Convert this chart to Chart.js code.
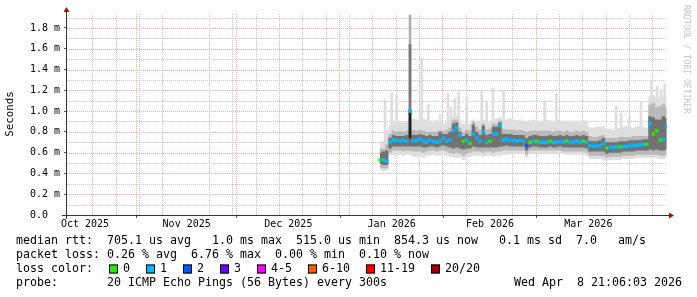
<!DOCTYPE html>
<html>
<head>
<meta charset="utf-8">
<script src="https://cdn.jsdelivr.net/npm/chart.js@4.4.1/dist/chart.umd.min.js"></script>
<style>
  html, body { margin: 0; padding: 0; background: #fff; }
  canvas { display: block; }
</style>
</head>
<body>
<canvas id="smoke" width="697" height="297"></canvas>
<script>
// x values are days counted from 1 Oct 2025, y values are milliseconds
const monthLabels = ['Oct 2025', 'Nov 2025', 'Dec 2025', 'Jan 2026', 'Feb 2026', 'Mar 2026'];
const monthStarts = [0, 31, 61, 92, 123, 151, 182];
const weekLines = [18, 25, 32, 39, 46, 53, 60, 67, 74, 81, 88, 95, 102, 109, 116, 123, 130, 137, 144, 151, 158, 165, 172, 179, 186];
const yTicks = [0, 0.1, 0.2, 0.3, 0.4, 0.5, 0.6, 0.7, 0.8, 0.9, 1.0, 1.1, 1.2, 1.3, 1.4, 1.5, 1.6, 1.7, 1.8, 1.9];

const days = [104, 105, 106, 107, 108, 109, 110, 111, 112, 113,
  114, 115, 116, 117, 118, 119, 120, 121, 122, 123,
  124, 125, 126, 127, 128, 129, 130, 131, 132, 133,
  134, 135, 136, 137, 138, 139, 140, 141, 142, 143,
  144, 145, 146, 147, 148, 149, 150, 151, 152, 153,
  154, 155, 156, 157, 158, 159, 160, 161, 162, 163,
  164, 165, 166, 167, 168, 169, 170, 171, 172, 173,
  174, 175, 176, 177, 178, 179, 180, 181, 182, 183,
  184, 185, 186, 187, 188, 189, 190];

// smoke: slowest ping, upper band, inner band, median, ... fastest ping
const smokeMax = [0.70, 0.71, 0.82, 0.86, 0.90, 0.89, 0.90, 0.89, 0.90, 0.92,
  0.93, 0.92, 0.94, 0.93, 0.92, 0.90, 0.89, 0.91, 0.90, 0.88,
  0.89, 0.90, 0.95, 0.95, 0.90, 0.88, 0.89, 0.88, 0.92, 0.90,
  0.91, 0.92, 0.90, 0.91, 0.92, 0.93, 0.94, 0.92, 0.92, 0.93,
  0.92, 0.91, 0.92, 0.91, 0.90, 0.91, 0.92, 0.91, 0.90, 0.91,
  0.92, 0.91, 0.90, 0.92, 0.91, 0.91, 0.90, 0.91, 0.90, 0.91,
  0.90, 0.91, 0.90, 0.85, 0.84, 0.85, 0.85, 0.86, 0.83, 0.83,
  0.82, 0.83, 0.84, 0.85, 0.86, 0.85, 0.84, 0.85, 0.86, 0.85,
  0.84, 1.14, 1.15, 1.12, 1.13, 1.14, 1.12];
const smokeMidHi = [0.64, 0.64, 0.68, 0.78, 0.81, 0.80, 0.81, 0.80, 0.81, 0.82,
  0.82, 0.81, 0.82, 0.81, 0.80, 0.80, 0.80, 0.80, 0.81, 0.81,
  0.82, 0.84, 0.92, 0.92, 0.84, 0.80, 0.82, 0.81, 0.90, 0.85,
  0.82, 0.88, 0.82, 0.83, 0.88, 0.88, 0.91, 0.83, 0.82, 0.82,
  0.82, 0.81, 0.82, 0.81, 0.80, 0.81, 0.81, 0.81, 0.81, 0.81,
  0.81, 0.81, 0.80, 0.81, 0.81, 0.80, 0.81, 0.80, 0.80, 0.81,
  0.80, 0.81, 0.80, 0.76, 0.75, 0.75, 0.76, 0.77, 0.74, 0.74,
  0.74, 0.74, 0.75, 0.75, 0.75, 0.75, 0.76, 0.76, 0.76, 0.76,
  0.76, 1.06, 1.08, 1.04, 1.05, 1.07, 1.04];
const smokeDarkHi = [0.60, 0.61, 0.62, 0.74, 0.77, 0.76, 0.76, 0.76, 0.77, 0.78,
  0.77, 0.77, 0.78, 0.77, 0.76, 0.77, 0.76, 0.76, 0.80, 0.78,
  0.78, 0.80, 0.88, 0.89, 0.80, 0.76, 0.78, 0.76, 0.87, 0.80,
  0.77, 0.86, 0.77, 0.78, 0.85, 0.85, 0.89, 0.78, 0.78, 0.78,
  0.77, 0.77, 0.77, 0.77, 0.74, 0.76, 0.77, 0.77, 0.76, 0.76,
  0.76, 0.77, 0.76, 0.76, 0.77, 0.76, 0.77, 0.76, 0.76, 0.77,
  0.76, 0.77, 0.76, 0.71, 0.71, 0.71, 0.72, 0.74, 0.70, 0.70,
  0.70, 0.70, 0.71, 0.71, 0.71, 0.72, 0.72, 0.72, 0.72, 0.73,
  0.73, 0.95, 0.94, 0.92, 0.92, 0.95, 0.93];
const median = [0.53, 0.53, 0.52, 0.70, 0.72, 0.72, 0.71, 0.72, 0.71, 1.00,
  0.71, 0.72, 0.73, 0.71, 0.70, 0.72, 0.71, 0.70, 0.71, 0.74,
  0.71, 0.72, 0.81, 0.84, 0.77, 0.71, 0.72, 0.69, 0.78, 0.74,
  0.71, 0.80, 0.70, 0.71, 0.78, 0.78, 0.86, 0.72, 0.73, 0.72,
  0.72, 0.71, 0.72, 0.71, 0.665, 0.70, 0.71, 0.71, 0.70, 0.70,
  0.70, 0.71, 0.70, 0.70, 0.71, 0.70, 0.71, 0.70, 0.70, 0.71,
  0.70, 0.71, 0.70, 0.665, 0.66, 0.665, 0.665, 0.69, 0.645, 0.65,
  0.65, 0.655, 0.655, 0.66, 0.66, 0.665, 0.67, 0.67, 0.675, 0.68,
  0.68, 0.88, 0.78, 0.81, 0.72, 0.73, 0.85];
const smokeDarkLo = [0.49, 0.48, 0.48, 0.64, 0.66, 0.66, 0.66, 0.66, 0.66, 0.66,
  0.66, 0.66, 0.66, 0.65, 0.65, 0.66, 0.66, 0.65, 0.66, 0.67,
  0.66, 0.65, 0.64, 0.65, 0.64, 0.63, 0.64, 0.64, 0.66, 0.65,
  0.65, 0.65, 0.65, 0.65, 0.65, 0.65, 0.66, 0.66, 0.67, 0.66,
  0.66, 0.66, 0.66, 0.66, 0.62, 0.65, 0.66, 0.66, 0.65, 0.65,
  0.65, 0.66, 0.65, 0.65, 0.66, 0.65, 0.65, 0.65, 0.65, 0.65,
  0.65, 0.65, 0.64, 0.61, 0.61, 0.61, 0.61, 0.61, 0.59, 0.60,
  0.60, 0.60, 0.60, 0.61, 0.61, 0.61, 0.61, 0.62, 0.62, 0.62,
  0.62, 0.63, 0.62, 0.63, 0.62, 0.62, 0.63];
const smokeMidLo = [0.46, 0.45, 0.45, 0.60, 0.62, 0.62, 0.62, 0.61, 0.62, 0.62,
  0.61, 0.61, 0.61, 0.60, 0.61, 0.62, 0.62, 0.61, 0.62, 0.62,
  0.61, 0.60, 0.59, 0.60, 0.59, 0.57, 0.59, 0.60, 0.61, 0.61,
  0.61, 0.60, 0.61, 0.61, 0.60, 0.61, 0.61, 0.62, 0.62, 0.62,
  0.62, 0.62, 0.62, 0.62, 0.58, 0.62, 0.62, 0.62, 0.62, 0.62,
  0.62, 0.62, 0.62, 0.62, 0.62, 0.61, 0.61, 0.61, 0.61, 0.61,
  0.61, 0.61, 0.60, 0.57, 0.57, 0.57, 0.57, 0.57, 0.55, 0.56,
  0.56, 0.56, 0.56, 0.57, 0.57, 0.57, 0.57, 0.58, 0.58, 0.58,
  0.58, 0.58, 0.58, 0.58, 0.57, 0.57, 0.58];
const smokeMin = [0.43, 0.42, 0.43, 0.57, 0.58, 0.57, 0.58, 0.57, 0.58, 0.58,
  0.56, 0.56, 0.56, 0.55, 0.57, 0.57, 0.58, 0.57, 0.57, 0.58,
  0.57, 0.56, 0.55, 0.55, 0.55, 0.53, 0.55, 0.56, 0.57, 0.57,
  0.57, 0.56, 0.57, 0.57, 0.56, 0.57, 0.57, 0.58, 0.58, 0.59,
  0.59, 0.59, 0.59, 0.59, 0.55, 0.59, 0.59, 0.59, 0.59, 0.59,
  0.59, 0.59, 0.59, 0.59, 0.59, 0.59, 0.58, 0.58, 0.58, 0.58,
  0.58, 0.58, 0.57, 0.54, 0.54, 0.54, 0.54, 0.53, 0.52, 0.53,
  0.53, 0.53, 0.53, 0.54, 0.54, 0.54, 0.54, 0.55, 0.55, 0.55,
  0.55, 0.55, 0.55, 0.55, 0.54, 0.54, 0.55];
// lost pings out of 20 per sample, as legend class index
const lossClass = [0, 1, 1, 1, 1, 1, 1, 1, 1, 1,
  1, 1, 1, 1, 1, 1, 1, 1, 1, 1,
  1, 1, 1, 1, 1, 0, 1, 0, 1, 1,
  1, 1, 1, 0, 1, 1, 1, 1, 1, 1,
  1, 1, 1, 1, 2, 0, 1, 0, 1, 1,
  1, 0, 1, 1, 1, 1, 0, 1, 1, 1,
  1, 0, 1, 1, 1, 1, 1, 1, 0, 1,
  1, 1, 0, 1, 1, 1, 1, 1, 1, 1,
  0, 1, 0, 0, 0, 1, 1];

// single slow samples sticking out of the smoke
const spikeDays = [105.5, 107.5, 109.0, 116.5, 118.5, 122.0, 124.4, 125.3, 126.5, 127.6, 130.0, 134.5, 136.0,
  137.9, 141.1, 153.4, 156.9, 174.8, 176.3, 178.8, 182.3, 185.5, 187.1, 188.3, 189.4];
const spikeLow = [0.70, 0.85, 0.85, 0.88, 0.88, 0.86, 0.85, 0.85, 0.88, 0.88, 0.85, 0.85, 0.85,
  0.85, 0.88, 0.86, 0.86, 0.80, 0.80, 0.80, 0.80, 1.00, 1.00, 1.00, 1.00];
const spikeTop = [1.11, 1.17, 1.15, 1.51, 1.07, 0.97, 1.17, 1.04, 1.12, 1.18, 1.14, 1.19, 1.09,
  1.22, 1.20, 1.10, 1.16, 1.05, 0.98, 0.94, 1.09, 1.30, 1.24, 1.20, 1.26];
// the one outlier on 22 Jan
const outlierDays = [113, 113, 113];
const outlierLow = [0.74, 0.74, 0.74];
const outlierTop = [1.925, 1.64, 1.00];

const lossLabels = ['0', '1', '2', '3', '4-5', '6-10', '11-19', '20/20'];
const lossColors = ['#20f000', '#00b8ff', '#0059ff', '#7000ff', '#ff00ff', '#ff5e00', '#ff0000', '#a00000'];

const statRtt = 'median rtt:  705.1 us avg   1.0 ms max  515.0 us min  854.3 us now   0.1 ms sd  7.0   am/s';
const statLoss = 'packet loss: 0.26 % avg  6.76 % max  0.00 % min  0.10 % now';
const probeText = 'probe:       20 ICMP Echo Pings (56 Bytes) every 300s';
const stampText = 'Wed Apr  8 21:06:03 2026';

const MONO = '"DejaVu Sans Mono", "Liberation Mono", monospace';
const lightGrey = '#dedede', midGrey = '#b9b9b9', darkGrey = '#727272';
const outlierShade = ['#b0b0b0', '#7a7a7a', '#202020'];
const majorGrid = '#f2a6a6', minorGrid = '#c8c8c8';
const clear = 'rgba(0,0,0,0)';

const monthMids = monthLabels.map((m, i) => (monthStarts[i] + monthStarts[i + 1]) / 2);
const xTicks = [...new Set([...weekLines, ...monthStarts.slice(1, 6), ...monthMids])].sort((a, b) => a - b);

function pts(vals) { return days.map((d, i) => ({ x: d, y: vals[i] })); }
function bars(xs, lo, hi) { return xs.map((d, i) => ({ x: d, y: [lo[i], hi[i]] })); }
function isMonth(v) { return monthStarts.includes(v); }
function isMid(v) { return monthMids.includes(v); }
function isMajorY(v) { return Math.round(v * 10) % 2 === 0; }

const band = { type: 'line', borderWidth: 0, borderColor: clear, pointRadius: 0, stepped: 'middle' };

// dotted grid drawn under the data through the library's own scales
const gridLines = {
  id: 'gridLines',
  beforeDatasetsDraw(chart) {
    const ctx = chart.ctx;
    const a = chart.chartArea;
    const xs = chart.scales.x, ys = chart.scales.y;
    ctx.save();
    ctx.lineWidth = 1;
    ctx.setLineDash([1, 1]);
    xTicks.forEach(v => {
      if (isMid(v) || v < xs.min || v > xs.max) return;
      const px = Math.round(xs.getPixelForValue(v)) - 0.5;
      ctx.strokeStyle = isMonth(v) ? majorGrid : minorGrid;
      ctx.beginPath();
      ctx.moveTo(px, a.bottom);
      ctx.lineTo(px, a.top);
      ctx.stroke();
    });
    yTicks.forEach(v => {
      if (v === 0) return;
      const py = Math.round(ys.getPixelForValue(v)) + 0.5;
      ctx.strokeStyle = isMajorY(v) ? majorGrid : minorGrid;
      ctx.beginPath();
      ctx.moveTo(a.left, py);
      ctx.lineTo(a.right, py);
      ctx.stroke();
    });
    ctx.restore();
  }
};

const decor = {
  id: 'decor',
  afterDraw(chart) {
    const ctx = chart.ctx;
    const a = chart.chartArea;
    ctx.save();
    // axes with arrow heads
    ctx.strokeStyle = '#333';
    ctx.lineWidth = 1;
    ctx.setLineDash([]);
    ctx.beginPath();
    ctx.moveTo(a.left - 5, a.bottom + 0.5);
    ctx.lineTo(a.right + 3, a.bottom + 0.5);
    ctx.moveTo(a.left - 0.5, a.bottom + 4);
    ctx.lineTo(a.left - 0.5, a.top - 1);
    ctx.stroke();
    ctx.fillStyle = '#a01010';
    ctx.beginPath();
    ctx.moveTo(a.right + 7, a.bottom + 0.5);
    ctx.lineTo(a.right + 2, a.bottom - 2.5);
    ctx.lineTo(a.right + 2, a.bottom + 3.5);
    ctx.closePath();
    ctx.fill();
    ctx.beginPath();
    ctx.moveTo(a.left - 0.5, a.top - 6);
    ctx.lineTo(a.left - 3.5, a.top - 1);
    ctx.lineTo(a.left + 2.5, a.top - 1);
    ctx.closePath();
    ctx.fill();

    // vertical unit label
    ctx.fillStyle = '#000';
    ctx.font = '10.8px ' + MONO;
    ctx.textAlign = 'center';
    ctx.textBaseline = 'middle';
    ctx.save();
    ctx.translate(10, 114);
    ctx.rotate(-Math.PI / 2);
    ctx.fillText('Seconds', 0, 0);
    ctx.restore();

    // watermark
    ctx.save();
    ctx.fillStyle = '#c4c4c4';
    ctx.font = '8.2px ' + MONO;
    ctx.textAlign = 'left';
    ctx.translate(686, 5);
    ctx.rotate(Math.PI / 2);
    ctx.fillText('RRDTOOL / TOBI OETIKER', 0, 0);
    ctx.restore();

    // legend block
    ctx.font = '11.63px ' + MONO;
    ctx.textAlign = 'left';
    ctx.fillStyle = '#000';
    ctx.fillText(statRtt, 16, 241);
    ctx.fillText(statLoss, 16, 255);
    ctx.fillText('loss color:', 16, 269);
    let x = 109;
    lossLabels.forEach((lab, i) => {
      ctx.fillStyle = lossColors[i];
      ctx.fillRect(x, 264.5, 9, 9);
      ctx.strokeStyle = '#000';
      ctx.strokeRect(x + 0.5, 265, 8, 8);
      ctx.fillStyle = '#000';
      ctx.fillText(lab, x + 14, 269);
      x += 14 + ctx.measureText(lab).width + 16;
    });
    ctx.fillText(probeText, 16, 283);
    ctx.fillText(stampText, 514, 283);
    ctx.restore();
  }
};

new Chart(document.getElementById('smoke'), {
  type: 'line',
  data: {
    datasets: [
      { ...band, data: pts(smokeMax), fill: '+1', backgroundColor: lightGrey, order: 6 },
      { ...band, data: pts(smokeMin), fill: false, order: 6 },
      { type: 'bar', data: bars(spikeDays, spikeLow, spikeTop), backgroundColor: lightGrey,
        barThickness: 2, grouped: false, order: 5 },
      { ...band, data: pts(smokeMidHi), fill: '+1', backgroundColor: midGrey, order: 4 },
      { ...band, data: pts(smokeMidLo), fill: false, order: 4 },
      { ...band, data: pts(smokeDarkHi), fill: '+1', backgroundColor: darkGrey, order: 3 },
      { ...band, data: pts(smokeDarkLo), fill: false, order: 3 },
      { type: 'bar', data: bars(outlierDays, outlierLow, outlierTop), backgroundColor: outlierShade,
        barThickness: 2, grouped: false, order: 2 },
      { type: 'line', data: pts(median), showLine: false, borderColor: clear,
        pointStyle: 'rect', pointRadius: 2.4, pointBorderWidth: 0,
        pointBackgroundColor: lossClass.map(c => lossColors[c]), order: 1 }
    ]
  },
  options: {
    responsive: false,
    animation: false,
    devicePixelRatio: 1,
    events: [],
    layout: { padding: { left: 0, top: 13, right: 30, bottom: 0 } },
    plugins: { legend: { display: false }, tooltip: { enabled: false } },
    scales: {
      x: {
        type: 'linear', min: 10.1, max: 190.1, offset: false,
        afterBuildTicks: s => { s.ticks = xTicks.map(v => ({ value: v })); },
        afterFit: s => { s.height = 82; },
        grid: {
          offset: false, drawOnChartArea: false, tickLength: 3,
          tickColor: c => c.tick && isMonth(c.tick.value) ? '#555' : clear
        },
        border: { display: false },
        ticks: {
          autoSkip: false, maxRotation: 0, minRotation: 0, padding: 0, color: '#000',
          font: { family: MONO, size: 10 },
          callback: v => { const i = monthMids.indexOf(v); return i >= 0 ? monthLabels[i] : ''; }
        }
      },
      y: {
        type: 'linear', min: 0, max: 1.944,
        afterBuildTicks: s => { s.ticks = yTicks.map(v => ({ value: v })); },
        afterFit: s => { s.width = 67; },
        grid: {
          drawOnChartArea: false, tickLength: 3,
          tickColor: c => c.tick && isMajorY(c.tick.value) ? '#555' : clear
        },
        border: { display: false },
        ticks: {
          autoSkip: false, padding: 4, color: '#000', font: { family: MONO, size: 10 },
          callback: v => !isMajorY(v) ? '' : v === 0 ? '0.0  ' : v.toFixed(1) + ' m'
        }
      }
    }
  },
  plugins: [gridLines, decor]
});
</script>
</body>
</html>
